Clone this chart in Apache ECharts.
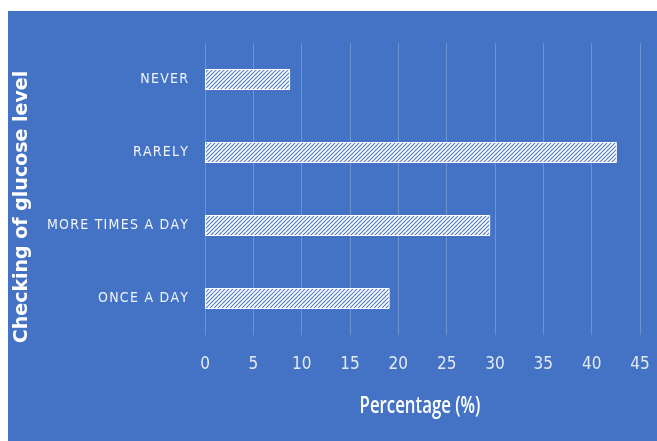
<!DOCTYPE html>
<html>
<head>
<meta charset="utf-8">
<script src="https://cdn.jsdelivr.net/npm/echarts@6/dist/echarts.min.js"></script>
<style>
  html, body { margin: 0; padding: 0; background: #ffffff; }
  #chart { width: 657px; height: 441px; }
</style>
</head>
<body>
<div id="chart"></div>
<script>
// Survey answers: how often glucose level is checked
const categories = ['NEVER', 'RARELY', 'MORE TIMES A DAY', 'ONCE A DAY'];
const percentages = [8.8, 42.6, 29.5, 19.1];
const axisTicks = [0, 5, 10, 15, 20, 25, 30, 35, 40, 45];

// Diagonal white hatching used as the bar fill
function hatchPattern() {
  const c = document.createElement('canvas');
  c.width = 4; c.height = 4;
  const g = c.getContext('2d');
  g.fillStyle = '#4472C4';
  g.fillRect(0, 0, 4, 4);
  g.strokeStyle = '#ffffff';
  g.lineWidth = 1.9;
  g.beginPath();
  g.moveTo(-1, 5); g.lineTo(5, -1);
  g.moveTo(-3, 3); g.lineTo(3, -3);
  g.moveTo(1, 7); g.lineTo(7, 1);
  g.stroke();
  return c;
}

const narrow = '"Liberation Sans Narrow", "DejaVu Sans Condensed", sans-serif';
const chart = echarts.init(document.getElementById('chart'), null, { renderer: 'canvas' });

chart.setOption({
  backgroundColor: '#ffffff',
  animation: false,
  graphic: [
    { type: 'rect', shape: { x: 8, y: 11, width: 649, height: 430 }, style: { fill: '#4472C4' }, z: -10 },
    {
      type: 'text', x: 22, y: 207, rotation: Math.PI / 2, z: 10,
      style: {
        text: 'Checking of glucose level', fill: '#ffffff',
        font: 'bold 19px "DejaVu Sans", sans-serif',
        align: 'center', verticalAlign: 'middle'
      }
    },
    {
      type: 'text', x: 420, y: 406, scaleX: 0.7, z: 10,
      style: {
        text: 'Percentage (%)', fill: '#ffffff',
        font: '600 24px "Open Sans", sans-serif',
        align: 'center', verticalAlign: 'middle'
      }
    }
  ],
  grid: { left: 205, right: 17, top: 43, bottom: 106, containLabel: false },
  xAxis: {
    type: 'value',
    min: axisTicks[0],
    max: axisTicks[axisTicks.length - 1],
    interval: axisTicks[1] - axisTicks[0],
    axisLine: { show: false },
    axisTick: { show: false },
    axisLabel: { color: 'rgba(255,255,255,0.85)', fontSize: 17, fontFamily: narrow, margin: 21 },
    splitLine: { show: true, lineStyle: { color: 'rgba(255,255,255,0.22)', width: 1 } }
  },
  yAxis: {
    type: 'category',
    data: categories,
    inverse: true,
    axisLine: { show: false },
    axisTick: { show: false },
    axisLabel: {
      color: 'rgba(255,255,255,0.92)', fontSize: 14, fontFamily: narrow, margin: 17,
      formatter: v => v.split('').join('\u200A')
    },
    splitLine: { show: false }
  },
  series: [{
    type: 'bar',
    data: percentages,
    barWidth: 21,
    itemStyle: {
      color: { image: hatchPattern(), repeat: 'repeat' },
      borderColor: '#ffffff',
      borderWidth: 1
    }
  }]
});
</script>
</body>
</html>
